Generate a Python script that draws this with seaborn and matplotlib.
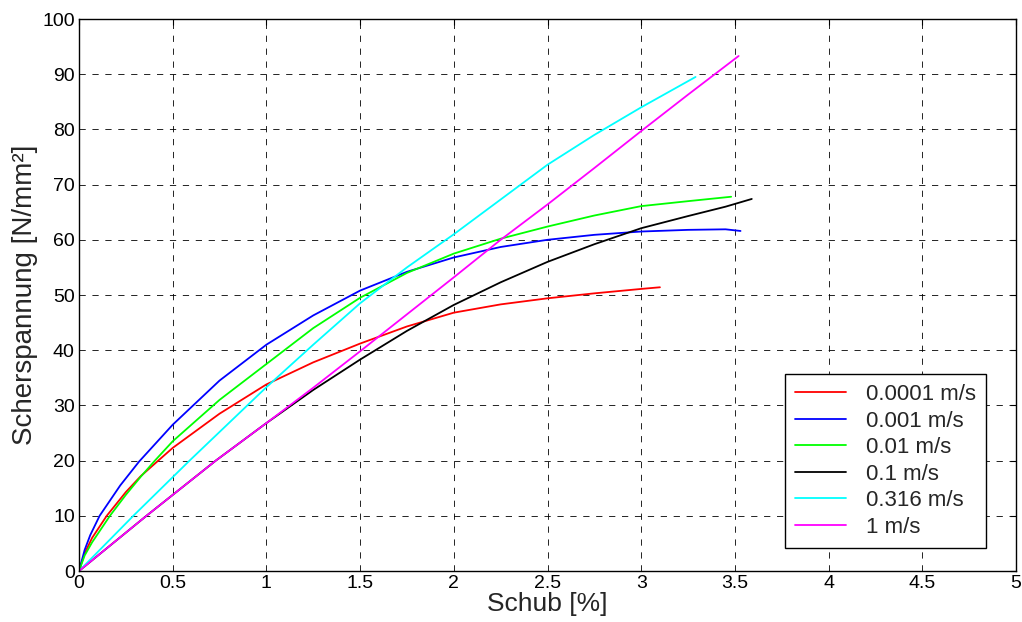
import pandas as pd
import matplotlib
matplotlib.use("Agg")
import matplotlib.pyplot as plt
import seaborn as sns

# values
speeds = ["0.0001 m/s", "0.001 m/s", "0.01 m/s", "0.1 m/s", "0.316 m/s", "1 m/s"]
colors = ["#ff0000", "#0000ff", "#00ff00", "#000000", "#00ffff", "#ff00ff"]

red_x = [0, 0.03, 0.07, 0.148, 0.25, 0.33, 0.423, 0.5, 0.75, 1, 1.25, 1.5, 1.75, 2, 2.25, 2.5, 2.75, 3, 3.1]
red_y = [0, 3.2, 6, 10, 14.3, 17.2, 20, 22.3, 28.5, 33.8, 37.8, 41.2, 44.3, 46.8, 48.3, 49.4, 50.3, 51.1, 51.4]

blue_x = [0, 0.03, 0.06, 0.11, 0.16, 0.22, 0.32, 0.5, 0.75, 1, 1.25, 1.5, 1.75, 2, 2.25, 2.5, 2.75, 3, 3.25, 3.45, 3.53]
blue_y = [0, 3.8, 6.5, 10, 12.5, 15.5, 19.8, 26.5, 34.5, 41, 46.3, 50.8, 54.2, 56.8, 58.7, 60, 60.9, 61.5, 61.8, 61.9, 61.6]

green_x = [0, 0.03, 0.07, 0.165, 0.25, 0.33, 0.405, 0.5, 0.75, 1, 1.25, 1.5, 1.75, 2, 2.25, 2.5, 2.75, 3, 3.25, 3.48]
green_y = [0, 2.8, 5.2, 10, 13.8, 17.1, 20, 23.5, 31, 37.5, 44, 49.5, 54, 57.5, 60.2, 62.4, 64.4, 66.1, 67, 67.8]

black_x = [0, 0.36, 0.73, 1, 1.25, 1.5, 1.75, 2, 2.25, 2.5, 2.75, 3, 3.25, 3.45, 3.59]
black_y = [0, 10, 20, 26.8, 32.8, 38.3, 43.5, 48.2, 52.3, 56, 59.2, 62.1, 64.3, 66, 67.4]

cyan_x = [0, 0.29, 0.59, 1, 1.25, 1.5, 1.75, 2, 2.25, 2.5, 2.75, 3, 3.29]
cyan_y = [0, 10, 20, 33.3, 41, 48.5, 55, 61, 67.3, 73.6, 79, 84, 89.5]

magenta_x = [0, 0.36, 0.73, 1, 1.25, 1.5, 1.75, 2, 2.25, 2.5, 2.75, 3, 3.25, 3.52]
magenta_y = [0, 10, 20, 26.8, 33.2, 39.8, 46.5, 53.2, 60, 66.4, 73, 79.7, 86.3, 93.3]

xs = [red_x, blue_x, green_x, black_x, cyan_x, magenta_x]
ys = [red_y, blue_y, green_y, black_y, cyan_y, magenta_y]

frames = []
for s, x, y in zip(speeds, xs, ys):
    frames.append(pd.DataFrame({"Schub": x, "Scherspannung": y, "speed": s}))
df = pd.concat(frames, ignore_index=True)

sns.set_style("white")
plt.rcParams['font.family'] = ['Liberation Sans', 'DejaVu Sans']

fig = plt.figure(figsize=(10.22, 6.22), dpi=100)
ax = fig.add_axes([79 / 1022, 51 / 622, 937 / 1022, 552 / 622])

sns.lineplot(data=df, x="Schub", y="Scherspannung", hue="speed", hue_order=speeds,
             palette=dict(zip(speeds, colors)), estimator=None, sort=False,
             linewidth=1.3, ax=ax)

ax.set_xlim(0, 5)
ax.set_ylim(0, 100)
xt = [0, 0.5, 1, 1.5, 2, 2.5, 3, 3.5, 4, 4.5, 5]
ax.set_xticks(xt)
ax.set_xticklabels(["0", "0.5", "1", "1.5", "2", "2.5", "3", "3.5", "4", "4.5", "5"])
ax.set_yticks(range(0, 101, 10))
ax.tick_params(direction="in", top=True, right=True, length=4, width=0.8,
               labelsize=14, colors="black", pad=3)
ax.grid(True, color="black", linestyle=(0, (7.5, 8)), linewidth=0.6)
for sp in ax.spines.values():
    sp.set_color("black")
    sp.set_linewidth(1)

ax.set_xlabel("Schub [%]", fontsize=19, labelpad=0)
ax.set_ylabel("Scherspannung [N/mm²]", fontsize=20, labelpad=3)

handles, labels = ax.get_legend_handles_labels()
leg = ax.legend(handles, labels, loc="lower right", bbox_to_anchor=(0.968, 0.042),
                borderaxespad=0, fontsize=16, frameon=True, fancybox=False,
                handlelength=2.3, handletextpad=0.9, labelspacing=0.25,
                borderpad=0.45)
leg.get_frame().set_edgecolor("black")
leg.get_frame().set_linewidth(1)
leg.get_frame().set_alpha(1)

fig.savefig("out.png", dpi=100)
